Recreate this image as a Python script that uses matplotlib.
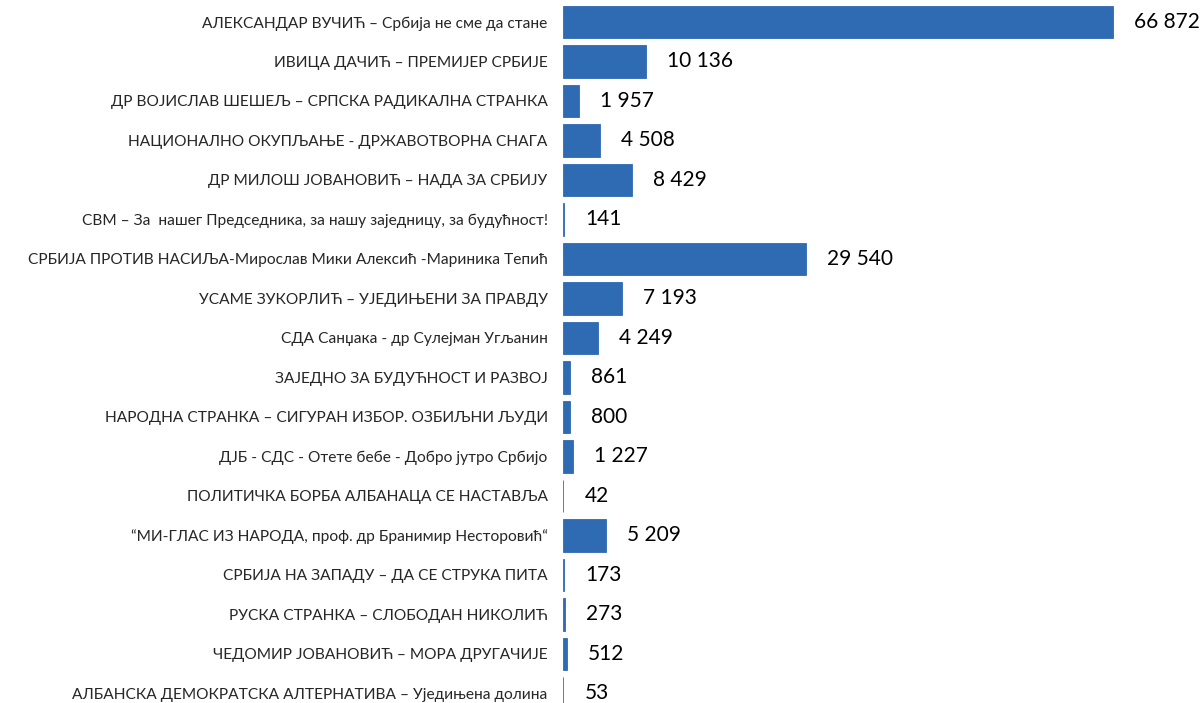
import matplotlib
matplotlib.use("Agg")
import matplotlib.pyplot as plt

# ═══════════════ DATA ═══════════════
parties = [
    "АЛЕКСАНДАР ВУЧИЋ – Србија не сме да стане",
    "ИВИЦА ДАЧИЋ – ПРЕМИЈЕР СРБИЈЕ",
    "ДР ВОЈИСЛАВ ШЕШЕЉ – СРПСКА РАДИКАЛНА СТРАНКА",
    "НАЦИОНАЛНО ОКУПЉАЊЕ - ДРЖАВОТВОРНА СНАГА",
    "ДР МИЛОШ ЈОВАНОВИЋ – НАДА ЗА СРБИЈУ",
    "СВМ – За  нашег Председника, за нашу заједницу, за будућност!",
    "СРБИЈА ПРОТИВ НАСИЉА-Мирослав Мики Алексић -Мариника Тепић",
    "УСАМЕ ЗУКОРЛИЋ – УЈЕДИЊЕНИ ЗА ПРАВДУ",
    "СДА Санџака - др Сулејман Угљанин",
    "ЗАЈЕДНО ЗА БУДУЋНОСТ И РАЗВОЈ",
    "НАРОДНА СТРАНКА – СИГУРАН ИЗБОР. ОЗБИЉНИ ЉУДИ",
    "ДЈБ - СДС - Отете бебе - Добро јутро Србијо",
    "ПОЛИТИЧКА БОРБА АЛБАНАЦА СЕ НАСТАВЉА",
    "“МИ-ГЛАС ИЗ НАРОДА, проф. др Бранимир Несторовић“",
    "СРБИЈА НА ЗАПАДУ – ДА СЕ СТРУКА ПИТА",
    "РУСКА СТРАНКА – СЛОБОДАН НИКОЛИЋ",
    "ЧЕДОМИР ЈОВАНОВИЋ – МОРА ДРУГАЧИЈЕ",
    "АЛБАНСКА ДЕМОКРАТСКА АЛТЕРНАТИВА – Уједињена долина",
]
votes = [66872, 10136, 1957, 4508, 8429, 141, 29540, 7193, 4249,
         861, 800, 1227, 42, 5209, 173, 273, 512, 53]

plt.rcParams["font.family"] = ["Lato", "Open Sans", "DejaVu Sans"]

W, H = 1202, 703
fig = plt.figure(figsize=(W / 100, H / 100), dpi=100)
x0 = 563
ax = fig.add_axes([x0 / W, 0, 1 - x0 / W, 1])

bar_c = "#2E6BB3"
ys = list(range(len(votes)))
ax.barh(ys, votes, height=0.835, color=bar_c, edgecolor=bar_c, linewidth=0.6)

# 66 872 ends at ~1113 px
xmax = 66872 * (W - x0) / (1113 - x0)
ax.set_xlim(0, xmax)
step = 39.5
top = 22.0
ax.set_ylim((H - top) / step, -top / step)

off = xmax * 21 / (W - x0)
for y, v in zip(ys, votes):
    ax.text(v + off, y, f"{v:,}".replace(",", " "), va="center", ha="left",
            fontsize=15, color="black")

ax.set_yticks(ys)
ax.set_yticklabels(parties, fontsize=11.2, color="#262626")
ax.tick_params(axis="y", length=0, pad=11)
ax.set_xticks([])
for s in ax.spines.values():
    s.set_visible(False)

fig.savefig("out.png", dpi=100, facecolor="white")
